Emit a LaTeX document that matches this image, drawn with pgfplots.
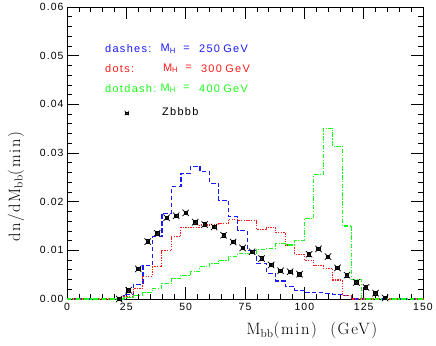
\documentclass[border=0pt]{standalone}
\usepackage{fontspec}
\usepackage{pgfplots}
\pgfplotsset{compat=1.18}
\usetikzlibrary{calc}
\newfontfamily\tickfont[LetterSpace=10]{Liberation Sans}
\newfontfamily\legfont[LetterSpace=12]{Liberation Sans}
\newfontfamily\labfont[LetterSpace=10]{Latin Modern Roman}
\definecolor{hblue}{rgb}{0.1,0.1,1}
\definecolor{hred}{rgb}{1,0.1,0.1}
\definecolor{hgreen}{rgb}{0.1,1,0.1}
\pgfdeclareplotmark{zmark}{%
  \pgfpathrectangle{\pgfpoint{-0.55\pgfplotmarksize}{-0.55\pgfplotmarksize}}{\pgfpoint{1.1\pgfplotmarksize}{1.1\pgfplotmarksize}}%
  \pgfusepathqfillstroke
  \pgfpathmoveto{\pgfpoint{-\pgfplotmarksize}{-\pgfplotmarksize}}\pgfpathlineto{\pgfpoint{\pgfplotmarksize}{\pgfplotmarksize}}%
  \pgfpathmoveto{\pgfpoint{-\pgfplotmarksize}{\pgfplotmarksize}}\pgfpathlineto{\pgfpoint{\pgfplotmarksize}{-\pgfplotmarksize}}%
  \pgfusepathqstroke
}
\newcommand{\legsz}{\legfont\fontsize{11}{13}\selectfont}
\begin{document}
\begin{tikzpicture}
\begin{axis}[
  name=ax,
  scale only axis,
  width=356bp, height=292bp,
  xmin=0, xmax=150, ymin=0, ymax=0.06,
  xtick={0,25,...,150},
  ytick={0,0.01,...,0.06},
  minor x tick num=4,
  minor y tick num=4,
  tick align=inside,
  major tick length=12bp,
  minor tick length=5bp,
  tick style={black, line width=0.6pt},
  axis line style={line width=0.7pt},
  xtick pos=both, ytick pos=both,
  /pgf/number format/assume math mode=true,
  yticklabel style={/pgf/number format/fixed, /pgf/number format/fixed zerofill, /pgf/number format/precision=2},
  scaled y ticks=false,
  tick label style={font=\tickfont\fontsize{10.5}{12}\selectfont},
  xticklabel style={yshift=-1bp},
  xlabel={M$_{\mathrm{bb}}$(min)\ \ (GeV)},
  xlabel style={at={(axis description cs:0.688,-0.123)}, anchor=base, font=\labfont\fontsize{16.5}{18}\selectfont},
  ylabel={dn/dM$_{\mathrm{bb}}$(min)},
  ylabel style={at={(axis description cs:-0.132,0.385)}, anchor=base, font=\labfont\fontsize{16.5}{18}\selectfont},
  clip=false,
]
% dashes: M_H = 250 GeV
\addplot[hblue, const plot mark left, line width=1.2bp, dash pattern=on 4.5bp off 2.5bp] coordinates {
(0,0) (24,0.0010) (28,0.0030) (32,0.0068) (36,0.0128) (40,0.0176) (44,0.0231) (48,0.0258)
(52,0.0273) (56,0.0262) (60,0.0238) (64,0.0203) (68,0.0169) (72,0.0140) (76,0.0099)
(80,0.0073) (84,0.0053) (88,0.0037) (92,0.0025) (96,0.0018) (100,0.0014) (104,0.0013)
(108,0.0012) (112,0.0010) (116,0.0007) (120,0) (150,0)};
% dots: M_H = 300 GeV
\addplot[hred, const plot mark left, line width=1.1bp, dash pattern=on 1.3bp off 1.3bp] coordinates {
(0,0) (24,0.0006) (28,0.0022) (32,0.0047) (36,0.0066) (40,0.0099) (44,0.0128) (48,0.0147)
(52,0.0147) (56,0.0152) (60,0.0153) (64,0.0155) (68,0.0164) (72,0.0162) (76,0.0161)
(80,0.0142) (84,0.0147) (88,0.0136) (92,0.0111) (96,0.0092) (100,0.0080) (104,0.0068)
(108,0.0063) (112,0.0039) (116,0.0007) (120,0) (150,0)};
% dotdash: M_H = 400 GeV
\addplot[hgreen, const plot mark left, line width=1.1bp, dash pattern=on 4.5bp off 1.5bp on 1.2bp off 1.5bp] coordinates {
(0,0) (24,0.0003) (28,0.0007) (32,0.0014) (36,0.0022) (40,0.0032) (44,0.0042) (48,0.0049)
(52,0.0056) (56,0.0066) (60,0.0073) (64,0.0080) (68,0.0088) (72,0.0094) (76,0.0094)
(80,0.0102) (84,0.0104) (88,0.0114) (92,0.0111) (96,0.0121) (100,0.0166) (104,0.0255)
(108,0.0351) (112,0.0314) (116,0.0150) (120,0.0040) (124,0) (150,0)};
% Zbbbb
\addplot[only marks, mark=zmark, mark size=3.2bp, black, mark options={line width=0.7pt, fill=black!75}] coordinates {
(22,0.0000) (26,0.0018) (30,0.0062) (34,0.0118) (38,0.0135) (42,0.0167) (46,0.0171)
(50,0.0177) (54,0.0158) (58,0.0153) (62,0.0148) (66,0.0131) (70,0.0117) (74,0.0105)
(78,0.0097) (82,0.0083) (86,0.0070) (90,0.0058) (94,0.0056) (98,0.0051) (102,0.0092)
(106,0.0103) (110,0.0087) (114,0.0064) (118,0.0049) (122,0.0034) (126,0.0024)
(130,0.0012) (134,0.0002)};
% legend marker
\addplot[only marks, mark=zmark, mark size=2.2bp, black, mark options={line width=0.5pt, fill=white}] coordinates {(25.2,0.0382)};
% legend texts
\node[anchor=west, hblue, font=\legsz, inner sep=0pt] at (axis cs:16.0,0.0514) {dashes:};
\node[anchor=west, hblue, font=\legsz, inner sep=0pt] at (axis cs:39.4,0.0514) {M\textsubscript{H}};
\node[anchor=west, hblue, font=\legsz, inner sep=0pt] at (axis cs:49.0,0.0514) {=};
\node[anchor=west, hblue, font=\legsz, inner sep=0pt] at (axis cs:55.6,0.0514) {250};
\node[anchor=west, hblue, font=\legsz, inner sep=0pt] at (axis cs:65.8,0.0514) {GeV};
\node[anchor=west, hred, font=\legsz, inner sep=0pt] at (axis cs:16.0,0.0474) {dots:};
\node[anchor=west, hred, font=\legsz, inner sep=0pt] at (axis cs:40.4,0.0474) {M\textsubscript{H}};
\node[anchor=west, hred, font=\legsz, inner sep=0pt] at (axis cs:49.8,0.0474) {=};
\node[anchor=west, hred, font=\legsz, inner sep=0pt] at (axis cs:56.4,0.0474) {300};
\node[anchor=west, hred, font=\legsz, inner sep=0pt] at (axis cs:66.6,0.0474) {GeV};
\node[anchor=west, hgreen, font=\legsz, inner sep=0pt] at (axis cs:16.0,0.0433) {dotdash:};
\node[anchor=west, hgreen, font=\legsz, inner sep=0pt] at (axis cs:39.4,0.0433) {M\textsubscript{H}};
\node[anchor=west, hgreen, font=\legsz, inner sep=0pt] at (axis cs:49.0,0.0433) {=};
\node[anchor=west, hgreen, font=\legsz, inner sep=0pt] at (axis cs:55.6,0.0433) {400};
\node[anchor=west, hgreen, font=\legsz, inner sep=0pt] at (axis cs:65.8,0.0433) {GeV};
\node[anchor=west, black, font=\legsz, inner sep=0pt] at (axis cs:40.0,0.0385) {Zbbbb};
\end{axis}
\pgfresetboundingbox
\path ($(ax.south west)+(-67bp,-47bp)$) rectangle ($(ax.north east)+(13bp,7bp)$);
\end{tikzpicture}
\end{document}
